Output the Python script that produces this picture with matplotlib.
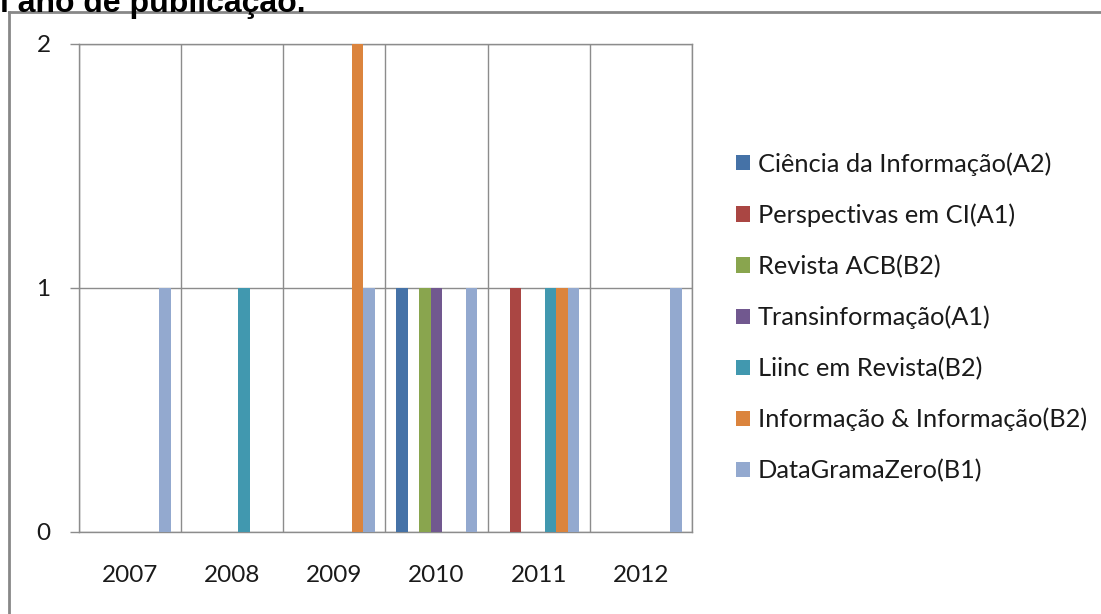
import matplotlib
matplotlib.use("Agg")
import matplotlib.pyplot as plt
import numpy as np
from matplotlib.lines import Line2D

years = ["2007", "2008", "2009", "2010", "2011", "2012"]
series_names = [
    "Ciência da Informação(A2)",
    "Perspectivas em CI(A1)",
    "Revista ACB(B2)",
    "Transinformação(A1)",
    "Liinc em Revista(B2)",
    "Informação & Informação(B2)",
    "DataGramaZero(B1)",
]
ciencia = [0, 0, 0, 1, 0, 0]
perspectivas = [0, 0, 0, 0, 1, 0]
revista_acb = [0, 0, 0, 1, 0, 0]
transinformacao = [0, 0, 0, 1, 0, 0]
liinc = [0, 1, 0, 0, 1, 0]
info_info = [0, 0, 2, 0, 1, 0]
datagramazero = [1, 0, 1, 1, 1, 1]
series_values = [ciencia, perspectivas, revista_acb, transinformacao,
                 liinc, info_info, datagramazero]
colors = ["#4572A7", "#AA4643", "#89A54E", "#71588F", "#4198AF", "#DB843D", "#93A9CF"]
yticks = [0, 1, 2]

W, H = 1101, 614
fig = plt.figure(figsize=(W / 100, H / 100), dpi=100)
fig.patch.set_facecolor("white")

# axes in pixel coords: left 79, right 692, top 44, bottom 532
l, r, t, b = 79, 692, 44, 532
ax = fig.add_axes([l / W, 1 - b / H, (r - l) / W, (b - t) / H])

font = "Lato"
grid_col = "#8c8c8c"
x = np.arange(len(years))
bw = 0.1136
n = len(series_values)
for i, (vals, name, c) in enumerate(zip(series_values, series_names, colors)):
    pos = x - bw * n / 2 + bw * (i + 0.5)
    ax.bar(pos, vals, width=bw, color=c, label=name, zorder=3, linewidth=0)

ax.set_xlim(-0.5, len(years) - 0.5)
ax.set_ylim(0, 2)
ax.set_yticks(yticks)
ax.set_yticklabels([str(v) for v in yticks], fontsize=17.5, family=font, color="#1a1a1a")
ax.set_xticks(x)
ax.set_xticklabels(years, fontsize=17.5, family=font, color="#1a1a1a")
ax.set_xticks(np.arange(-0.5, len(years)), minor=True)
ax.tick_params(axis="x", which="both", length=0, pad=24)
ax.tick_params(axis="y", which="major", length=6.5, width=1, color=grid_col, pad=14)
ax.grid(axis="x", which="minor", color=grid_col, linewidth=1, zorder=1)
ax.grid(axis="y", which="major", color=grid_col, linewidth=1, zorder=1)
for s in ax.spines.values():
    s.set_color(grid_col)
    s.set_linewidth(1)

leg = ax.legend(loc="upper left", bbox_to_anchor=(736 / W, 1 - 152 / H),
                bbox_transform=fig.transFigure, frameon=False,
                prop={"family": font, "size": 18.3},
                handlelength=0.55, handleheight=0.55, handletextpad=0.3,
                labelspacing=1.09, borderaxespad=0, borderpad=0)
for txt in leg.get_texts():
    txt.set_color("#1a1a1a")

# outer frame
fig.add_artist(Line2D([9 / W, 9 / W], [0, 1 - 12 / H], transform=fig.transFigure,
                      color="#888888", linewidth=2))
fig.add_artist(Line2D([9 / W, 1], [1 - 12 / H, 1 - 12 / H], transform=fig.transFigure,
                      color="#888888", linewidth=2))

fig.text(0 / W, 1 - 12 / H, "l ano de publicação.", fontsize=23, fontweight="bold",
         family="Liberation Sans", va="baseline", ha="left", color="black")

fig.savefig("out.png", dpi=100)
